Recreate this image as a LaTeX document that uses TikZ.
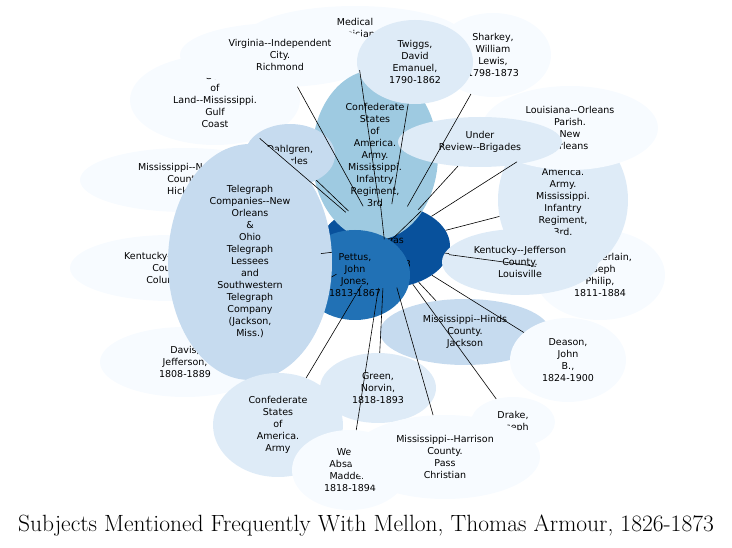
\documentclass[tikz,border=0pt]{standalone}
\usepackage{fontspec}
\setsansfont{DejaVu Sans}
\usetikzlibrary{shapes.geometric}
\definecolor{cA}{HTML}{F7FBFF}
\definecolor{cB}{HTML}{DEEBF7}
\definecolor{cC}{HTML}{C6DBEF}
\definecolor{cD}{HTML}{9ECAE1}
\definecolor{cE}{HTML}{2171B5}
\definecolor{cF}{HTML}{08519C}
\tikzset{SubjStyle/.style = {
 shape = ellipse,
 inner sep = 0pt,
 align = center,
 text = black,
 font = \sffamily\fontsize{9.5}{12}\selectfont},
 EdgeStyle/.style = {semithick, black}}

\begin{document}
\begin{tikzpicture}[x=1pt, y=-1pt]
\useasboundingbox (0,0) rectangle (732,548);

\node[SubjStyle, fill=cA, minimum width=220, minimum height=64] (S1) at (355,38) {};
\node[SubjStyle] at (355,29) {Medical\\Physicians};
\node[SubjStyle, fill=cA, minimum width=170, minimum height=90] (S2) at (215,100) {Sea\\of\\Land-{}-Mississippi.\\Gulf\\Coast};
\node[SubjStyle, fill=cA, minimum width=200, minimum height=64] (S3) at (280,55) {Virginia-{}-Independent\\City.\\Richmond};
\node[SubjStyle, fill=cA, minimum width=116, minimum height=84] (S4) at (493,55) {Sharkey,\\William\\Lewis,\\1798-1873};
\node[SubjStyle, fill=cF, minimum width=130, minimum height=84] (M) at (385,246) {Mellon,\\Thomas\\Armour,\\1826-1873};
\node[SubjStyle, fill=cD, minimum width=126, minimum height=170] (S5) at (375,155) {Confederate\\States\\of\\America.\\Army.\\Mississippi.\\Infantry\\Regiment,\\3rd};
\node[SubjStyle, fill=cB, minimum width=116, minimum height=84] (S6) at (415,62) {Twiggs,\\David\\Emanuel,\\1790-1862};
\node[SubjStyle, fill=cC, minimum width=90, minimum height=62] (S7) at (290,155) {Dahlgren,\\Charles};
\node[SubjStyle, fill=cA, minimum width=210, minimum height=64] (S8) at (185,180) {Mississippi-{}-Newton\\County.\\Hickory};
\node[SubjStyle, fill=cA, minimum width=200, minimum height=66] (S9) at (170,268) {Kentucky-{}-Hickman\\County.\\Columbus};
\node[SubjStyle, fill=cA, minimum width=170, minimum height=70] (S10) at (185,362) {Davis,\\Jefferson,\\1808-1889};
\node[SubjStyle, fill=cA, minimum width=130, minimum height=90] (S11) at (600,275) {Chamberlain,\\Joseph\\Philip,\\1811-1884};
\node[SubjStyle, fill=cB, minimum width=130, minimum height=150] (S12) at (563,200) {};
\node[SubjStyle] at (563,184) {Confederate\\States\\of\\America.\\Army.\\Mississippi.\\Infantry\\Regiment,\\3rd.};
\node[SubjStyle, fill=cA, minimum width=176, minimum height=84] (S13) at (570,128) {Louisiana-{}-Orleans\\Parish.\\New\\Orleans};
\node[SubjStyle, fill=cB, minimum width=164, minimum height=50] (S14) at (480,142) {Under\\Review-{}-Brigades};
\node[SubjStyle, fill=cB, minimum width=156, minimum height=66] (S15) at (520,262) {Kentucky-{}-Jefferson\\County.\\Louisville};
\node[SubjStyle, fill=cE, minimum width=110, minimum height=90] (S16) at (355,275) {Pettus,\\John\\Jones,\\1813-1867};

% edges hidden behind the telegraph node
\foreach \s in {S7,S8,S9,S10}
  \draw[EdgeStyle] (M) -- (\s);

\node[SubjStyle, fill=cC, minimum width=164, minimum height=236] (S17) at (250,262) {Telegraph\\Companies-{}-New\\Orleans\\\&\\Ohio\\Telegraph\\Lessees\\and\\Southwestern\\Telegraph\\Company\\(Jackson,\\Miss.)};
\node[SubjStyle, fill=cC, minimum width=170, minimum height=66] (S18) at (465,332) {Mississippi-{}-Hinds\\County.\\Jackson};
\node[SubjStyle, fill=cA, minimum width=116, minimum height=84] (S19) at (568,360) {Deason,\\John\\B.,\\1824-1900};
\node[SubjStyle, fill=cA, minimum width=84, minimum height=50] (S20) at (513,422) {Drake,\\Joseph};
\node[SubjStyle, fill=cB, minimum width=116, minimum height=70] (S21) at (378,388) {Green,\\Norvin,\\1818-1893};
\node[SubjStyle, fill=cB, minimum width=130, minimum height=104] (S22) at (278,425) {Confederate\\States\\of\\America.\\Army};
\node[SubjStyle, fill=cA, minimum width=116, minimum height=80] (S23) at (350,470) {West,\\Absalom\\Madden,\\1818-1894};
\node[SubjStyle, fill=cA, minimum width=190, minimum height=84] (S24) at (445,457) {Mississippi-{}-Harrison\\County.\\Pass\\Christian};

\foreach \s in {S1,S2,S3,S4,S5,S6,S11,S12,S13,S14,S15,S16,S17,S18,S19,S20,S21,S22,S23,S24}
  \draw[EdgeStyle] (M) -- (\s);

\node[font=\fontsize{23.5}{26}\selectfont] (T) at (366,526) {Subjects Mentioned Frequently With Mellon, Thomas Armour, 1826-1873};
\end{tikzpicture}
\end{document}
